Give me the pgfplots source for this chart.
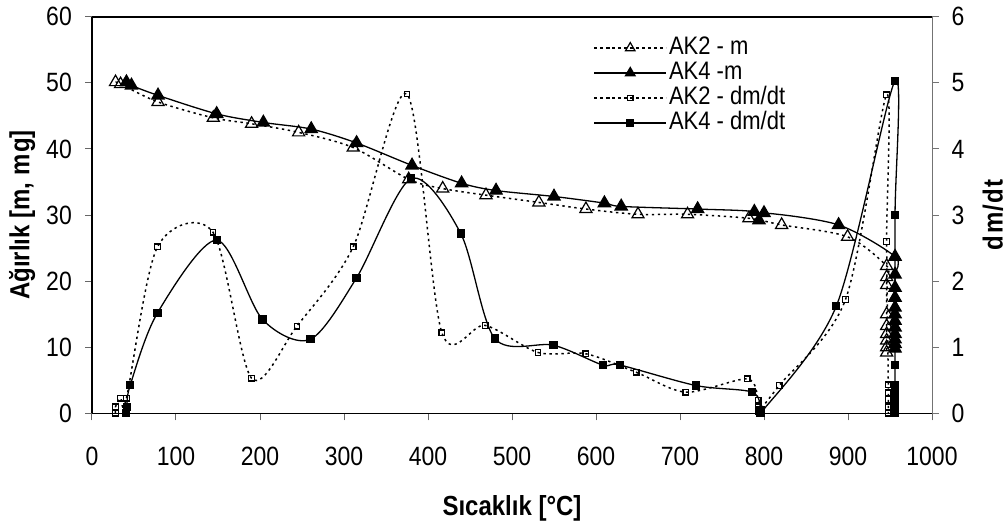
\documentclass[border=0pt]{standalone}
\usepackage{fontspec}
\setmainfont{Liberation Sans}
\usepackage{graphicx}
\usepackage{pgfplots}
\usepackage{pgfplotstable}
\pgfplotsset{compat=1.18}
\newcommand{\V}[1]{\scalebox{1}[1.15]{#1}}
\newcommand{\labfont}{\fontsize{24}{28}\selectfont\bfseries}

% AK2 - m (left axis, mg)
\pgfplotstableread{
x y
28 50.1
34 49.8
78.6 47.1
144.4 44.7
190 43.8
246 42.5
311 40.2
377 35.4
417.5 34.0
469 33.0
532 31.9
588 30.9
650 30.1
709 30.1
782 29.5
821 28.5
899.5 26.7
946 22.3
946 20.6
946 19.4
946 15.0
946 13.2
946 12.0
946 11.0
946 10.0
946 9.2
}\AKtwoM

% AK4 - m (left axis, mg)
\pgfplotstableread{
x y
41 50.1
47 49.6
78.6 48.1
148.4 45.3
204 44.0
261 43.0
315 40.9
381 37.5
440 34.8
481 33.7
550 32.8
610 31.8
630 31.3
721 30.9
788.5 30.5
794 29.2
800 30.3
888.8 28.5
956 23.7
956 21.0
956 19.0
956 17.5
956 16.0
956 15.0
956 14.0
956 13.0
956 12.0
956 11.2
956 10.5
956 9.8
}\AKfourM

% AK2 - dm/dt (right axis)
\pgfplotstableread{
x y
28 0.0
28 0.1
34 0.23
41 0.23
78 2.52
144 2.74
190 0.53
244 1.32
311 2.52
375 4.83
416.5 1.22
468 1.33
531 0.92
588 0.90
648 0.62
707 0.32
780 0.52
793 0.20
793 0.10
793 0.02
818 0.42
897 1.72
946 4.82
946 2.60
948 0.43
948 0.31
948 0.21
948 0.10
948 0.0
}\AKtwoD

% AK4 - dm/dt (right axis)
\pgfplotstableread{
x y
40.5 0.0
41.5 0.10
45.6 0.43
78 1.52
148.4 2.62
203 1.42
260 1.12
315 2.05
380 3.55
439 2.72
479.6 1.13
549.5 1.03
608 0.73
628.5 0.73
719 0.42
786 0.32
796 0.05
796 0.0
886 1.62
956 5.03
956 3.00
956 0.73
956 0.43
956 0.31
956 0.20
956 0.10
956 0.0
}\AKfourD

\pgfplotsset{
  base/.style={at={(0pt,0pt)}, anchor=south west, scale only axis,
    width=840pt, height=396.6pt, xmin=0, xmax=1000,
    tick align=outside, major tick length=7pt,
    /pgf/number format/1000 sep={}, /pgf/number format/assume math mode=true,
    tick label style={font=\fontsize{23}{27}\selectfont, inner sep=0pt},
  },
  dotline/.style={line width=1.5pt, dash pattern=on 2.4pt off 3.6pt},
  sAKtwoM/.style={black, dotline, smooth, mark=triangle, mark size=7pt,
    mark options={solid, fill=white, line width=1.2pt}},
  sAKfourM/.style={black, line width=1.3pt, smooth, mark=triangle*, mark size=7pt,
    mark options={solid, fill=black}},
  sAKtwoD/.style={black, dotline, smooth, mark=square, mark size=2.8pt,
    mark options={solid, fill=white, line width=1.3pt}},
  sAKfourD/.style={black, line width=1.3pt, smooth, mark=square*, mark size=3.5pt,
    mark options={solid}},
}

\begin{document}
\begin{tikzpicture}
\path[use as bounding box] (-92pt,-117.7pt) rectangle (915pt,413.3pt);

\begin{axis}[base, ymin=0, ymax=60,
  axis x line*=bottom, axis y line*=left,
  axis line style={line width=1.6pt, black},
  tick style={line width=1pt, black!60},
  xtick={0,100,...,1000}, ytick={0,10,...,60},
  xticklabel={\V{\pgfmathprintnumber{\tick}}},
  yticklabel={\V{\pgfmathprintnumber{\tick}}},
  xticklabel style={anchor=north, yshift=-27pt},
  yticklabel style={anchor=east, xshift=-13pt},
  xlabel={\V{Sıcaklık [°C]}},
  every axis x label/.style={at={(axis description cs:0.5,-0.2395)}, anchor=center, font=\labfont},
  ylabel={\V{Ağırlık [m, m\kern1.5pt g]}},
  every axis y label/.style={at={(axis description cs:-0.0833,0.5)}, rotate=90, anchor=center, font=\labfont},
]
\addplot[sAKtwoM] table {\AKtwoM};
\addplot[sAKfourM] table {\AKfourM};
\draw[line width=1.6pt] (rel axis cs:0,1) -- (rel axis cs:1,1);
\end{axis}

\begin{axis}[base, ymin=0, ymax=6,
  axis x line=none, axis y line*=right,
  axis line style={line width=1pt, black!55},
  tick style={line width=1pt, black!55},
  ytick={0,1,...,6},
  yticklabel={\V{\pgfmathprintnumber{\tick}}},
  yticklabel style={anchor=west, xshift=12.3pt},
  ylabel={\V{d\kern2pt m\kern1pt/\kern1pt d\kern1pt t}},
  every axis y label/.style={at={(axis description cs:1.0726,0.5)}, rotate=90, anchor=center, font=\labfont},
  legend cell align=left,
  legend style={at={(axis description cs:0.5968,0.953)}, anchor=north west,
    draw=none, fill=none, inner sep=0pt, row sep=0pt,
    font=\fontsize{22}{26}\selectfont,
    nodes={inner sep=2pt, text height=17pt, text depth=4pt}},
  legend image code/.code={\draw[mark repeat=2, mark phase=2, #1]
    plot coordinates {(0pt,0pt) (36pt,0pt) (72pt,0pt)};},
]
\addlegendimage{sAKtwoM, mark size=5.5pt}
\addlegendentry{\V{AK2 - m}}
\addlegendimage{sAKfourM, mark size=5.5pt}
\addlegendentry{\V{AK4 -m}}
\addplot[sAKtwoD] table {\AKtwoD};
\addlegendentry{\V{AK2 - dm/dt}}
\addplot[sAKfourD] table {\AKfourD};
\addlegendentry{\V{AK4 - dm/dt}}
\end{axis}
\end{tikzpicture}
\end{document}
